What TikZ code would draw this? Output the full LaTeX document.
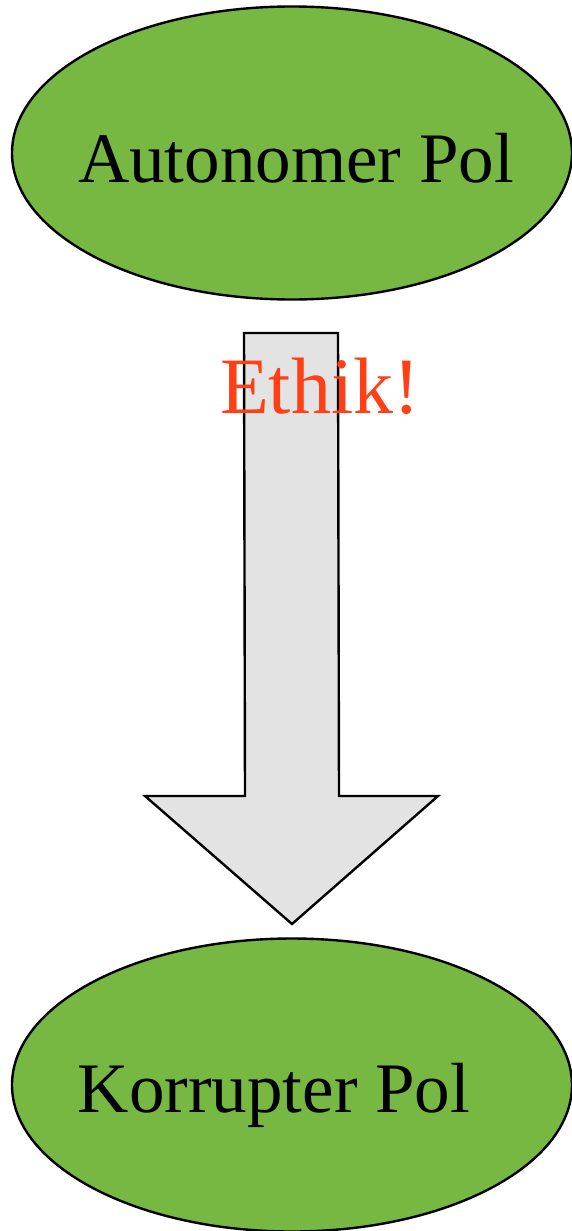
\documentclass[tikz,border=0pt]{standalone}
\usepackage{fontspec}
\setmainfont{Liberation Serif}
\usetikzlibrary{shapes.geometric}
\definecolor{polgreen}{HTML}{77B843}
\definecolor{ethred}{HTML}{FF4016}
\definecolor{arrowgray}{HTML}{E3E3E3}
\tikzset{
  pol/.style={ellipse, draw=black, line width=1.2pt, fill=polgreen, minimum width=280pt, minimum height=146.5pt, inner sep=0pt},
  poltext/.style={anchor=base, font=\fontsize{35.5pt}{40pt}\selectfont, inner sep=0pt},
  blockarrow/.style={draw=black, line width=1.2pt, fill=arrowgray, line join=miter}
}
\begin{document}
\begin{tikzpicture}[x=0.5pt,y=-0.5pt]
\useasboundingbox (0,0) rectangle (572,1231);
\node[pol] (top) at (292,153) {};
\node[pol] (bot) at (292,1085) {};
\node[poltext] (toptext) at (296,182) {Autonomer Pol};
\node[poltext] (bottext) at (274,1112) {Korrupter Pol};
\coordinate (a1) at (244,333);
\coordinate (a2) at (338,333);
\coordinate (a3) at (339,796);
\coordinate (a4) at (438,796);
\coordinate (tip) at (292,924);
\coordinate (a6) at (145,796);
\coordinate (a7) at (245,796);
\draw[blockarrow] (a1) -- (a2) -- (a3) -- (a4) -- (tip) -- (a6) -- (a7) -- cycle;
\node[anchor=base, text=ethred, font=\fontsize{40pt}{45pt}\selectfont, inner sep=0pt] (ethik) at (320,413) {Ethik!};
\end{tikzpicture}
\end{document}
